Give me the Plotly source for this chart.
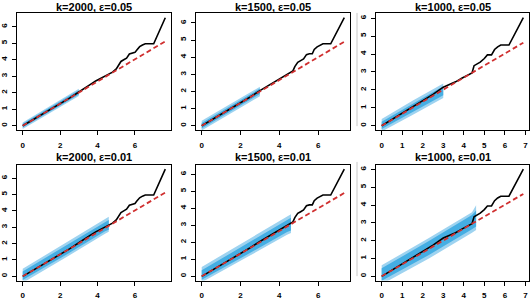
import plotly.graph_objects as go

# ---------------- data ----------------
k_labels = ["k=2000", "k=1500", "k=1000"]
eps_labels = ["ε=0.05", "ε=0.01"]

# black curves (same in both rows for a given k)
x_k2000 = [0, 0.5, 1.0, 1.5, 2.0, 2.5, 3.0, 3.3, 3.6, 3.9, 4.2, 4.5, 4.8, 5.0, 5.1,
           5.25, 5.4, 5.55, 5.7, 5.85, 6.0, 6.1, 6.25, 6.4, 6.55, 7.0, 7.62]
y_k2000 = [0, 0.33, 0.66, 0.98, 1.33, 1.68, 2.05, 2.25, 2.5, 2.72, 2.9, 3.1, 3.25, 3.45, 3.6,
           3.9, 4.0, 4.1, 4.35, 4.4, 4.45, 4.6, 4.8, 4.9, 4.97, 4.97, 6.55]

x_k1500 = [0, 0.5, 1.0, 1.5, 2.0, 2.5, 3.0, 3.3, 3.6, 3.9, 4.2, 4.5, 4.7, 4.8, 4.95,
           5.1, 5.25, 5.4, 5.55, 5.7, 5.8, 5.95, 6.1, 6.25, 6.65, 7.35]
y_k1500 = [0, 0.33, 0.66, 1.0, 1.33, 1.68, 2.05, 2.25, 2.45, 2.7, 2.9, 3.05, 3.2, 3.45, 3.7,
           3.8, 3.9, 4.15, 4.2, 4.2, 4.45, 4.6, 4.7, 4.78, 4.78, 6.3]

x_k1000 = [0, 0.5, 1.0, 1.5, 2.0, 2.5, 3.0, 3.3, 3.6, 3.9, 4.2, 4.4, 4.5, 4.65, 4.8,
           5.0, 5.15, 5.35, 5.5, 5.65, 5.8, 6.2, 6.9]
y_k1000 = [0, 0.35, 0.68, 1.02, 1.37, 1.75, 2.15, 2.3, 2.45, 2.65, 2.82, 2.95, 3.35, 3.45, 3.55,
           3.75, 3.95, 3.95, 4.25, 4.4, 4.5, 4.5, 6.02]

# red dashed reference lines: from (0,0) to the end point
red_end_x = [7.62, 7.35, 6.9]
red_end_y = [5.12, 4.9, 4.63]

# blue bands, per panel (row eps=0.05 then eps=0.01; columns k=2000,1500,1000)
band_x_05 = [0, 1.5, 3.0]
light_lo_05 = [[-0.2, 0.8, 1.8], [-0.28, 0.72, 1.72], [-0.32, 0.6, 1.55]]
light_hi_05 = [[0.2, 1.22, 2.25], [0.3, 1.3, 2.28], [0.38, 1.4, 2.35]]
dark_lo_05 = [[-0.1, 0.9, 1.9], [-0.15, 0.85, 1.85], [-0.18, 0.78, 1.7]]
dark_hi_05 = [[0.12, 1.12, 2.15], [0.17, 1.17, 2.17], [0.22, 1.22, 2.2]]

band_x_01 = [0, 2.3, 4.4, 4.6]
light_lo_01 = [[-0.4, 1.15, 2.6, 2.73], [-0.35, 1.1, 2.45, 2.55], [-0.45, 1.0, 2.45, 2.6]]
light_hi_01 = [[0.46, 2.05, 3.5, 3.64], [0.55, 2.1, 3.5, 3.65], [0.62, 2.15, 3.6, 4.0]]
dark_lo_01 = [[-0.22, 1.3, 2.75, 2.85], [-0.2, 1.25, 2.6, 2.7], [-0.25, 1.2, 2.65, 2.8]]
dark_hi_01 = [[0.3, 1.88, 3.35, 3.45], [0.35, 1.92, 3.35, 3.45], [0.45, 1.98, 3.45, 3.7]]

x_tick_vals = [[0, 2, 4, 6], [0, 2, 4, 6], [0, 1, 2, 3, 4, 5, 6, 7]]
y_tick_vals = [0, 1, 2, 3, 4, 5, 6]

# ---------------- layout geometry (pixels) ----------------
W, H = 531, 300
col_px = [(17, 171), (196, 350), (376, 529)]
row_px = [(13.5, 131), (166, 282.5)]
x_ranges = [[-0.305, 7.925], [-0.294, 7.644], [-0.276, 7.176]]
y_ranges = [[-0.262, 6.812], [-0.252, 6.552], [-0.241, 6.261]]

curves_x = [x_k2000, x_k1500, x_k1000]
curves_y = [y_k2000, y_k1500, y_k1000]

LIGHT = "#9ed3f0"
DARK = "#45aee3"
RED = "#d03030"
FONT = "Liberation Sans"

fig = go.Figure()
annotations = []

for r in range(2):
    for c in range(3):
        idx = r * 3 + c + 1
        xa = "x" if idx == 1 else f"x{idx}"
        ya = "y" if idx == 1 else f"y{idx}"
        if r == 0:
            bx, llo, lhi, dlo, dhi = band_x_05, light_lo_05[c], light_hi_05[c], dark_lo_05[c], dark_hi_05[c]
        else:
            bx, llo, lhi, dlo, dhi = band_x_01, light_lo_01[c], light_hi_01[c], dark_lo_01[c], dark_hi_01[c]
        fig.add_trace(go.Scatter(x=bx + bx[::-1], y=lhi + llo[::-1], fill="toself",
                                 fillcolor=LIGHT, line=dict(width=0), mode="lines",
                                 hoverinfo="skip", showlegend=False, xaxis=xa, yaxis=ya))
        fig.add_trace(go.Scatter(x=bx + bx[::-1], y=dhi + dlo[::-1], fill="toself",
                                 fillcolor=DARK, line=dict(width=0), mode="lines",
                                 hoverinfo="skip", showlegend=False, xaxis=xa, yaxis=ya))
        fig.add_trace(go.Scatter(x=curves_x[c], y=curves_y[c], mode="lines",
                                 line=dict(color="black", width=1.6),
                                 showlegend=False, xaxis=xa, yaxis=ya))
        fig.add_trace(go.Scatter(x=[0, red_end_x[c]], y=[0, red_end_y[c]], mode="lines",
                                 line=dict(color=RED, width=1.8, dash="5px,3px"),
                                 showlegend=False, xaxis=xa, yaxis=ya))

        x0, x1 = col_px[c]
        y0, y1 = row_px[r]
        xdom = [x0 / W, x1 / W]
        ydom = [1 - y1 / H, 1 - y0 / H]
        common = dict(showline=True, mirror=True, linecolor="black", linewidth=1,
                      ticks="outside", ticklen=4, tickwidth=1, tickcolor="black",
                      showgrid=False, zeroline=False, fixedrange=True,
                      tickfont=dict(family=FONT, size=8, color="black", weight="bold"))
        fig.layout[f"xaxis{'' if idx == 1 else idx}"] = dict(
            domain=xdom, range=x_ranges[c], tickmode="array", tickvals=x_tick_vals[c],
            anchor=ya, ticklabelstandoff=3, **common)
        fig.layout[f"yaxis{'' if idx == 1 else idx}"] = dict(
            domain=ydom, range=y_ranges[c], tickmode="array", tickvals=y_tick_vals,
            anchor=xa, tickangle=-90, ticklabelstandoff=2, **common)

        title_y = 7 if r == 0 else 158.5
        annotations.append(dict(text=f"<b>{k_labels[c]}, {eps_labels[r]}</b>",
                                x=(x0 + x1) / 2 / W, y=1 - title_y / H,
                                xref="paper", yref="paper", xanchor="center", yanchor="middle",
                                showarrow=False,
                                font=dict(family=FONT, size=11, color="black")))

shapes = [
    dict(type="line", xref="paper", yref="paper", x0=357 / W, x1=357 / W,
         y0=1 - 127 / H, y1=1 - 13 / H, line=dict(color="#c8c8c8", width=1)),
    dict(type="line", xref="paper", yref="paper", x0=357 / W, x1=357 / W,
         y0=1 - 278 / H, y1=1 - 163 / H, line=dict(color="#c8c8c8", width=1)),
]

fig.update_layout(width=W, height=H, margin=dict(l=0, r=0, t=0, b=0),
                  paper_bgcolor="white", plot_bgcolor="white",
                  annotations=annotations, shapes=shapes, showlegend=False)

fig.write_html("out.html", config={"displayModeBar": False},
               post_script="document.body.style.margin='0';document.body.style.padding='0';"
                           "document.body.style.overflow='hidden';")
